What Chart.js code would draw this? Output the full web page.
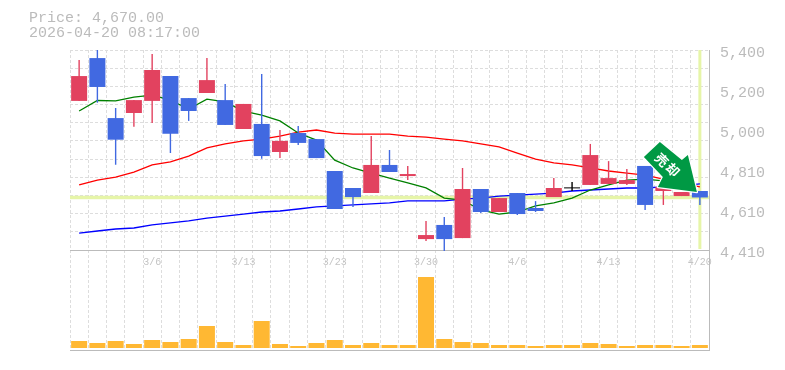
<!DOCTYPE html>
<html>
<head>
<meta charset="utf-8">
<style>html,body{margin:0;padding:0;background:#fff}canvas{display:block}</style>
<script src="https://cdn.jsdelivr.net/npm/chart.js@4"></script>
</head>
<body>
<div style="width:785px;height:370px"><canvas id="c" width="785" height="370"></canvas></div>
<script>
const categories = ['3/2','3/3','3/4','3/5','3/6','3/9','3/10','3/11','3/12','3/13','3/16','3/17','3/18','3/19','3/23','3/24','3/25','3/26','3/27','3/30','3/31','4/1','4/2','4/3','4/6','4/7','4/8','4/9','4/10','4/13','4/14','4/15','4/16','4/17','4/20'];
const opens  = [5148,5360,5063,5088,5148,5271,5162,5187,5152,5009,5034,4895,4989,4959,4801,4717,4692,4831,4776,4464,4534,4469,4712,4598,4692,4618,4672,4717,4732,4737,4737,4826,4702,4677,4702];
const closes = [5271,5217,4956,5152,5301,4986,5098,5251,5029,5133,4875,4950,4940,4865,4613,4672,4831,4796,4786,4484,4464,4712,4598,4667,4588,4603,4717,4712,4880,4766,4756,4633,4722,4697,4670];
const highs  = [5350,5400,5113,5152,5380,5271,5162,5360,5232,5133,5281,5004,5024,4959,4801,4717,4974,4905,4826,4553,4573,4816,4712,4667,4692,4652,4766,4747,4935,4850,4811,4826,4780,4697,4702];
const lows   = [5148,5139,4832,5020,5039,4890,5049,5187,5029,5009,4862,4865,4930,4865,4613,4623,4692,4796,4756,4454,4405,4469,4593,4598,4583,4598,4672,4702,4732,4737,4732,4608,4633,4677,4633];
const maShort = [5098,5150,5148,5167,5177,5152,5108,5157,5143,5098,5078,5049,4989,4954,4855,4816,4791,4766,4742,4717,4667,4657,4608,4588,4598,4628,4643,4667,4707,4732,4756,4761,4752,4722,4697];
const maMid   = [4732,4756,4771,4796,4831,4846,4875,4915,4935,4950,4959,4974,4994,5004,4989,4984,4984,4984,4974,4969,4959,4950,4935,4920,4890,4860,4841,4831,4816,4801,4791,4781,4761,4742,4722];
const maLong  = [4494,4504,4514,4519,4534,4544,4554,4568,4578,4588,4598,4603,4613,4623,4628,4633,4638,4643,4653,4653,4653,4662,4667,4677,4682,4687,4692,4702,4707,4712,4717,4717,4722,4727,4737];
const volumes = [7000,5000,7000,4000,8000,6000,9000,22000,6000,3000,27000,4000,2000,5000,8000,3000,5000,3000,3000,71000,9000,6000,5000,3000,3000,2000,3000,3000,5000,4000,2000,3000,3000,2000,3000];
const priceTickValues = [5400,5202,5004,4806,4608,4410];
const priceTickLabels = ['5,400','5,200','5,000','4,810','4,610','4,410'];
const gridValues = [5400,5310,5220,5130,5040,4950,4860,4770,4680,4590,4500];
const dateTickEvery = 5;
const currentPrice = 4670;
const headerLines = ['Price: 4,670.00','2026-04-20 08:17:00'];
const badgeText = ['売','却'];

const UP = '#e2425f', DOWN = '#4169e1', FLAT = '#000000', GREY = '#bbbbbb', LIME = '#e6f5a8';
const candleColor = i => closes[i] > opens[i] ? UP : DOWN;
const colors = categories.map((_, i) => (i === 27 ? FLAT : candleColor(i)));
const mono = '"Liberation Mono", monospace';

const overlay = {
  id: 'overlay',
  beforeDatasetsDraw(chart) {
    const {ctx, chartArea: a, scales: {x, y}} = chart;
    ctx.save();
    ctx.fillStyle = LIME;
    const py = y.getPixelForValue(currentPrice);
    ctx.fillRect(a.left, py - 1.75, a.right - a.left, 3.5);
    const px = x.getPixelForValue(categories.length - 1);
    ctx.fillRect(px - 1.5, a.top, 3, y.getPixelForValue(4410) - a.top - 1);
    ctx.restore();
  },
  afterDraw(chart) {
    const {ctx, scales: {x, y}} = chart;
    ctx.save();
    ctx.fillStyle = GREY;
    ctx.font = '15px ' + mono;
    ctx.textBaseline = 'middle';
    ctx.fillText(headerLines[0], 29, 18);
    ctx.fillText(headerLines[1], 29, 33);
    const tx = x.getPixelForValue(categories.length - 1) - 3;
    const ty = y.getPixelForValue(currentPrice) - 5.5;
    const pts = [[-37,-50],[-15,-32],[-9,-37],[0,0],[-39,-5],[-34,-15],[-53,-35]];
    ctx.beginPath();
    pts.forEach((p, i) => i ? ctx.lineTo(tx + p[0], ty + p[1]) : ctx.moveTo(tx + p[0], ty + p[1]));
    ctx.closePath();
    ctx.lineJoin = 'round';
    ctx.strokeStyle = '#ffffff';
    ctx.lineWidth = 2.5;
    ctx.stroke();
    ctx.fillStyle = '#009944';
    ctx.fill();
    ctx.fillStyle = '#ffffff';
    ctx.font = 'bold 13px "Noto Sans CJK JP"';
    ctx.textAlign = 'center';
    [[-35,-32],[-24,-22]].forEach((p, i) => {
      ctx.save();
      ctx.translate(tx + p[0], ty + p[1]);
      ctx.rotate(Math.PI / 4);
      ctx.fillText(badgeText[i], 0, 0);
      ctx.restore();
    });
    ctx.restore();
  }
};

const body = (i) => (i === 27) ? [opens[i] - 2, opens[i] + 3] : [opens[i], closes[i]];

new Chart(document.getElementById('c'), {
  data: {
    labels: categories,
    datasets: [
      {type:'line', data: maLong,  borderColor:'#0000ff', borderWidth:1.3, pointRadius:0, tension:0, order:5, yAxisID:'y'},
      {type:'line', data: maMid,   borderColor:'#ff0000', borderWidth:1.3, pointRadius:0, tension:0, order:4, yAxisID:'y'},
      {type:'line', data: maShort, borderColor:'#008000', borderWidth:1.3, pointRadius:0, tension:0, order:3, yAxisID:'y'},
      {type:'bar', data: categories.map((_, i) => [lows[i], highs[i]]), backgroundColor: colors, grouped:false, categoryPercentage:1, barPercentage:.9, maxBarThickness:1.4, inflateAmount:0, order:2, yAxisID:'y'},
      {type:'bar', data: categories.map((_, i) => body(i)), backgroundColor: colors, grouped:false, categoryPercentage:1, barPercentage:.9, maxBarThickness:16, inflateAmount:0, order:1, yAxisID:'y'},
      {type:'bar', data: volumes, backgroundColor:'#ffb833', grouped:false, categoryPercentage:1, barPercentage:.9, maxBarThickness:16, inflateAmount:0, order:6, yAxisID:'yv'}
    ]
  },
  options: {
    responsive:false, animation:false, devicePixelRatio:1,
    layout:{padding:{left:70, top:50, right:0, bottom:20}},
    plugins:{legend:{display:false}, tooltip:{enabled:false}, title:{display:false}},
    scales:{
      x:{
        type:'category', position:{y:4410}, offset:true,
        afterFit(s){s.height=0;},
        grid:{offset:true, color:'#dddddd', lineWidth:1, drawTicks:false},
        border:{color:GREY, dash:[3,2], display:true},
        ticks:{autoSkip:false, maxRotation:0, minRotation:0, color:'#c4c4c4', padding:6, font:{family:mono,size:10},
          callback(v,i){return (i % dateTickEvery) === dateTickEvery-1 ? categories[i] : '';}}
      },
      x2:{
        type:'category', position:'bottom', labels:categories, offset:true,
        afterFit(s){s.height=0;},
        grid:{display:false, drawTicks:false},
        border:{color:GREY},
        ticks:{display:false}
      },
      y:{
        position:'right', min:3915, max:5400,
        afterFit(s){s.width=76;},
        afterBuildTicks(s){s.ticks = priceTickValues.map(v=>({value:v}));},
        grid:{display:false, drawTicks:false},
        border:{color:GREY},
        ticks:{autoSkip:false, color:GREY, padding:11, labelOffset:3, font:{family:mono,size:15},
          callback(v,i){return priceTickLabels[i];}}
      },
      yg:{
        position:'left', min:3915, max:5400,
        afterFit(s){s.width=0;},
        afterBuildTicks(s){s.ticks = gridValues.map(v=>({value:v}));},
        grid:{color:'#dddddd', lineWidth:1, drawTicks:false},
        border:{display:false, dash:[3,2]},
        ticks:{display:false}
      },
      yv:{
        display:false, position:'right', min:-2000, max:298000
      }
    }
  },
  plugins:[overlay]
});
</script>
</body>
</html>
